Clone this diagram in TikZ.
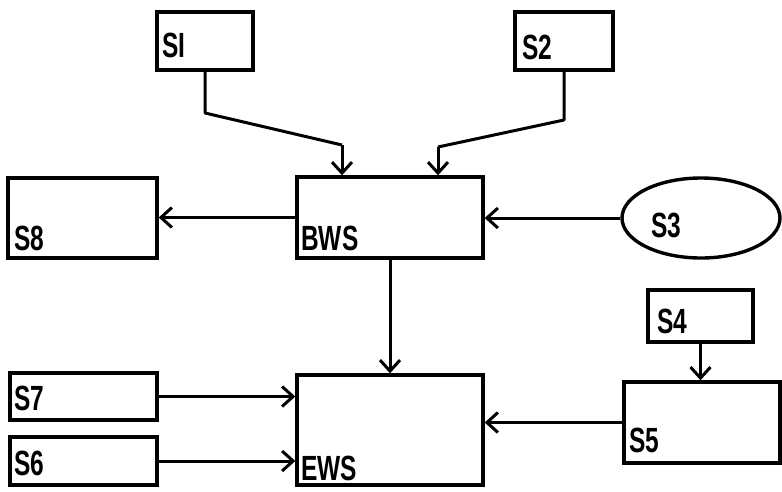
\documentclass[tikz,border=0pt]{standalone}
\usepackage{fontspec}
\usetikzlibrary{arrows.meta,shapes.geometric}
\newfontfamily\lblfont{Liberation Sans}
\newcommand{\lbltext}[1]{\lblfont\bfseries\fontsize{35}{35}\selectfont\scalebox{0.7}[1]{#1}}
\begin{document}
\begin{tikzpicture}[x=1pt,y=-1pt,
  box/.style={draw,line width=3.4pt,inner sep=0pt,minimum width=#1},
  lbl/.style={anchor=base west,inner sep=0pt,font=\lblfont},
  arr/.style={line width=3pt,-{Straight Barb[length=11pt,width=20pt,line width=3pt]}},
  wire/.style={line width=3pt,line join=round}]
\useasboundingbox (0,0) rectangle (782,491);
% boxes
\node[box=96pt,minimum height=58pt] (s1) at (205,41) {};
\node[box=98pt,minimum height=58pt] (s2) at (564,41) {};
\node[box=149pt,minimum height=80pt] (s8) at (82.5,218) {};
\node[box=186pt,minimum height=81pt] (bws) at (390,217.5) {};
\node[draw,ellipse,line width=3.4pt,minimum width=158pt,minimum height=80pt,inner sep=0pt] (s3) at (701,218) {};
\node[box=105pt,minimum height=52pt] (s4) at (700.5,316) {};
\node[box=156pt,minimum height=81pt] (s5) at (702,422.5) {};
\node[box=186pt,minimum height=110pt] (ews) at (390,430) {};
\node[box=147pt,minimum height=47pt] (s7) at (83.5,396.5) {};
\node[box=147pt,minimum height=48pt] (s6) at (83.5,461) {};
% labels
\node[lbl] (t1) at (162,57) {\lbltext{SI}};
\node[lbl] (t2) at (522,59) {\lbltext{S2}};
\node[lbl] (t8) at (14,250) {\lbltext{S8}};
\node[lbl] (tb) at (301,250) {\lbltext{BWS}};
\node[lbl] (t3) at (651,237) {\lbltext{S3}};
\node[lbl] (t4) at (657,333) {\lbltext{S4}};
\node[lbl] (t5) at (629,452) {\lbltext{S5}};
\node[lbl] (t7) at (14,410) {\lbltext{S7}};
\node[lbl] (t6) at (14,475) {\lbltext{S6}};
\node[lbl] (te) at (301,480) {\lbltext{EWS}};
% connectors
\coordinate (b1) at (205,113);
\coordinate (b1b) at (342,145);
\coordinate (b2) at (564,120);
\coordinate (b2b) at (438,147);
\draw[wire] (s1.south) -- (b1) -- (b1b);
\draw[arr] (b1b) -- (b1b |- bws.north);
\draw[wire] (s2.south) -- (b2) -- (b2b);
\draw[arr] (b2b) -- (b2b |- bws.north);
\draw[arr] (s3.west) -- (s3.west -| bws.east);
\draw[arr] (bws.west) -- (bws.west -| s8.east);
\draw[arr] (bws.south) -- (ews.north);
\draw[arr] (s4.south) -- (s4.south |- s5.north);
\draw[arr] (s5.west) -- (s5.west -| ews.east);
\draw[arr] (s7.east) -- (s7.east -| ews.west);
\draw[arr] (s6.east) -- (s6.east -| ews.west);
\end{tikzpicture}
\end{document}
